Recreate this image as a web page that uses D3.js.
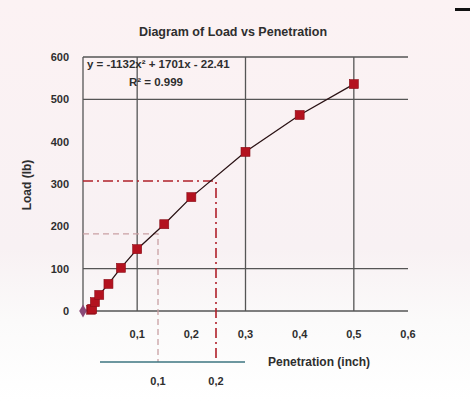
<!DOCTYPE html>
<html>
<head>
<meta charset="utf-8">
<script src="https://cdn.jsdelivr.net/npm/d3@7"></script>
<style>
  html, body { margin: 0; padding: 0; background: #ffffff; }
  svg { display: block; }
  text { font-family: "Liberation Sans", Arial, sans-serif; fill: #2e2e2e; }
</style>
</head>
<body>
<script>
// Penetration (inch) and measured load (lb)
const penetration = [0, 0.015, 0.017, 0.022, 0.03, 0.047, 0.07, 0.1, 0.15, 0.2, 0.3, 0.4, 0.5];
const load        = [0, 3, 5, 21, 38, 64, 102, 146, 205, 269, 376, 463, 536];

const xTicks = [0.1, 0.2, 0.3, 0.4, 0.5, 0.6];
const yTicks = [0, 100, 200, 300, 400, 500, 600];
const xGrid = [0, 0.1, 0.3, 0.5];
const yGrid = [100, 500, 600];

// corrected penetration axis and the loads read at 0.1 and 0.2 inch
const corrTicks = [0.1, 0.2];
const corrLoad = [182, 307];

const titleText = "Diagram of Load vs Penetration";
const xLabel = "Penetration (inch)";
const yLabel = "Load (lb)";
const eqText = "y = -1132x\u00B2 + 1701x - 22.41";
const r2Text = "R\u00B2 = 0.999";

const W = 470, H = 401;
const svg = d3.select("body").append("svg").attr("width", W).attr("height", H);

// soft page tint
const grad = svg.append("defs").append("linearGradient")
  .attr("id", "bg").attr("x1", 0).attr("y1", 0).attr("x2", 0).attr("y2", 1);
grad.append("stop").attr("offset", "0%").attr("stop-color", "#fcf2f3");
grad.append("stop").attr("offset", "62%").attr("stop-color", "#f8f1f3");
grad.append("stop").attr("offset", "80%").attr("stop-color", "#fbfafa");
grad.append("stop").attr("offset", "100%").attr("stop-color", "#ffffff");
svg.append("rect").attr("width", W).attr("height", H).attr("fill", "url(#bg)");

const x = d3.scaleLinear().domain([0, 0.6]).range([83, 408]);
const y = d3.scaleLinear().domain([0, 600]).range([311, 57]);
const xc = d3.scaleLinear().domain([0, 0.25]).range([100, 245]);

const fmt = d => d3.format(".1f")(d).replace(".", ",");

// grid
svg.append("g").selectAll("line").data(yGrid).join("line")
  .attr("x1", x(0)).attr("x2", x(0.6))
  .attr("y1", d => y(d)).attr("y2", d => y(d))
  .attr("stroke", "#555").attr("stroke-width", 1.3);
svg.append("g").selectAll("line").data(xGrid).join("line")
  .attr("x1", d => x(d)).attr("x2", d => x(d))
  .attr("y1", y(600)).attr("y2", y(0))
  .attr("stroke", "#555").attr("stroke-width", 1.3);
// x axis baseline
svg.append("line")
  .attr("x1", x(0)).attr("x2", x(0.6)).attr("y1", y(0)).attr("y2", y(0))
  .attr("stroke", "#555").attr("stroke-width", 1.4);

// tick labels
svg.append("g").selectAll("text").data(yTicks).join("text")
  .attr("x", 69).attr("y", d => y(d) + 4)
  .attr("text-anchor", "end").attr("font-size", 11).attr("font-weight", "bold")
  .text(d => d);
svg.append("g").selectAll("text").data(xTicks).join("text")
  .attr("x", d => x(d)).attr("y", 338)
  .attr("text-anchor", "middle").attr("font-size", 11).attr("font-weight", "bold")
  .text(fmt);

// reading lines: 0.1 inch (light dashed) and 0.2 inch (dash-dot)
svg.append("path")
  .attr("d", `M${x(0)},${y(corrLoad[0])}H${xc(corrTicks[0])}V362`)
  .attr("fill", "none").attr("stroke", "#c9a0a4").attr("stroke-width", 1.3)
  .attr("stroke-dasharray", "6,4");
svg.append("path")
  .attr("d", `M${x(0)},${y(corrLoad[1])}H${xc(corrTicks[1])}V362`)
  .attr("fill", "none").attr("stroke", "#b0202a").attr("stroke-width", 1.6)
  .attr("stroke-dasharray", "10,4,2,4");

// corrected axis
svg.append("line")
  .attr("x1", xc(0)).attr("x2", xc(0.25)).attr("y1", 362).attr("y2", 362)
  .attr("stroke", "#3d7480").attr("stroke-width", 1.6);
svg.append("g").selectAll("text").data(corrTicks).join("text")
  .attr("x", d => xc(d)).attr("y", 385)
  .attr("text-anchor", "middle").attr("font-size", 11).attr("font-weight", "bold")
  .text(fmt);

// load curve
const pts = penetration.map((p, i) => [p, load[i]]);
svg.append("path").datum(pts)
  .attr("d", d3.line().x(d => x(d[0])).y(d => y(d[1])))
  .attr("fill", "none").attr("stroke", "#2a1214").attr("stroke-width", 1.3);

svg.append("g").selectAll("rect").data(pts.slice(1)).join("rect")
  .attr("x", d => x(d[0]) - 4.5).attr("y", d => y(d[1]) - 4.5)
  .attr("width", 9).attr("height", 9)
  .attr("fill", "#b3121f").attr("stroke", "#8a0e18").attr("stroke-width", 0.6);
// origin marker
svg.append("path").datum(pts[0])
  .attr("d", d3.symbol(d3.symbolDiamond, 50))
  .attr("transform", d => `translate(${x(d[0])},${y(d[1])})`)
  .attr("fill", "#8a4a78");

// trendline equation
svg.append("text").attr("x", 87).attr("y", 68).attr("font-size", 11.5).attr("font-weight", "bold").text(eqText);
svg.append("text").attr("x", 156).attr("y", 86).attr("font-size", 11.5).attr("font-weight", "bold")
  .attr("text-anchor", "middle").text(r2Text);

// titles
svg.append("text").attr("x", 233).attr("y", 36).attr("text-anchor", "middle")
  .attr("font-size", 12.5).attr("font-weight", "bold").text(titleText);
svg.append("text").attr("x", 268).attr("y", 366).attr("font-size", 12).attr("font-weight", "bold").text(xLabel);
svg.append("text").attr("transform", "translate(31,185) rotate(-90)")
  .attr("text-anchor", "middle").attr("font-size", 12).attr("font-weight", "bold").text(yLabel);

// small dark bar at the top right
svg.append("rect").attr("x", 455).attr("y", 8).attr("width", 15).attr("height", 3).attr("fill", "#111");
</script>
</body>
</html>
